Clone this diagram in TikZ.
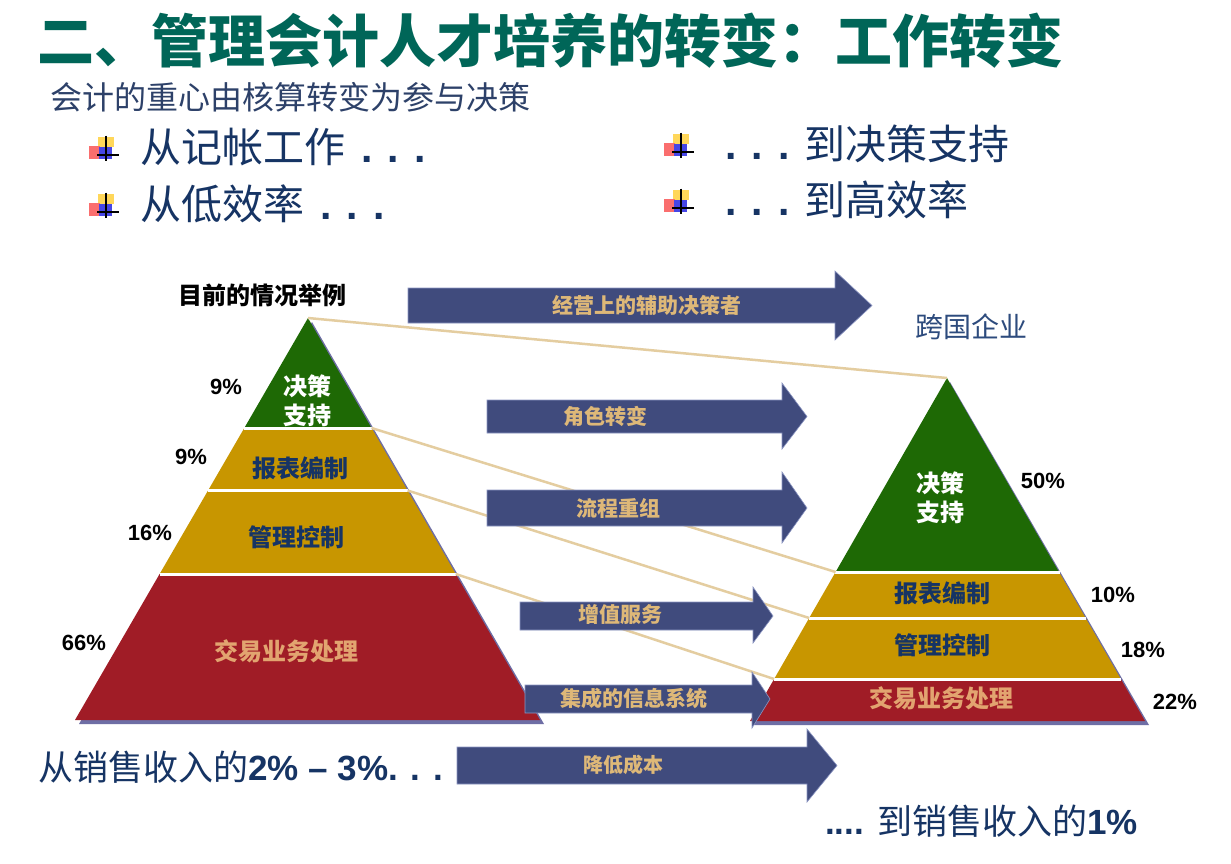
\documentclass[tikz,border=0pt]{standalone}
\usepackage{fontspec}
\setmainfont{Noto Sans CJK SC}
\newfontfamily\arial{Liberation Sans}
\definecolor{titleteal}{RGB}{0,102,88}
\definecolor{navytxt}{RGB}{22,52,100}
\definecolor{subtxt}{RGB}{45,65,105}
\definecolor{arrowfill}{RGB}{64,75,125}
\definecolor{arrowedge}{RGB}{140,150,195}
\definecolor{arrowlbl}{RGB}{222,184,120}
\definecolor{tanline}{RGB}{228,205,160}
\definecolor{pgreen}{RGB}{30,105,5}
\definecolor{pgold}{RGB}{200,150,0}
\definecolor{pred}{RGB}{160,28,38}
\definecolor{shadowc}{RGB}{110,110,165}
\definecolor{peach}{RGB}{226,164,112}
\definecolor{corpblue}{RGB}{45,75,125}
\definecolor{bulyel}{RGB}{255,215,90}
\definecolor{bulred}{RGB}{250,110,110}
\definecolor{bulblu}{RGB}{70,70,230}
\newcommand{\myarrow}[7]{%
  \fill[arrowfill, draw=arrowedge, line width=0.6pt] (#1,#2) -- (#4,#2) -- (#4,#5) -- (#7,{(#2+#3)/2}) -- (#4,#6) -- (#4,#3) -- (#1,#3) -- cycle;}
\tikzset{
  bul/.pic={
    \fill[bulyel] (-8,-11) rectangle (8,-1);
    \fill[bulred] (-17,-2) rectangle (-6,11);
    \fill[bulblu] (-7,-1) rectangle (6,11);
    \draw[black, line width=1.6pt] (0,-12.5) -- (0,12.5);
    \draw[black, line width=1.6pt] (-9,7) -- (13,7);
  },
  albl/.style={inner sep=0, text=arrowlbl, font=\fontsize{21}{25}\selectfont\bfseries},
  pct/.style={inner sep=0, text=black, font=\arial\fontsize{22}{26}\selectfont\bfseries},
  lyr/.style={inner sep=0, font=\fontsize{24}{29}\selectfont\bfseries, align=center},
  bullettxt/.style={inner sep=0, anchor=west, text=navytxt, font=\fontsize{41}{48}\selectfont},
  bottomtxt/.style={inner sep=0, anchor=west, text=navytxt, font=\fontsize{35}{42}\selectfont},
  tline/.style={tanline, line width=2.5pt},
  sepline/.style={white, line width=3pt}
}
\begin{document}
\begin{tikzpicture}[x=1pt,y=-1pt]
\fill[white] (0,0) rectangle (1231,863);
\useasboundingbox (0,0) rectangle (1231,863);

% header
\node[inner sep=0, anchor=west, text=titleteal, font=\fontsize{57}{66}\selectfont\bfseries] (title) at (37,41) {二、管理会计人才培养的转变：工作转变};
\node[inner sep=0, anchor=west, text=subtxt, font=\fontsize{32}{38}\selectfont] (sub) at (50,97) {会计的重心由核算转变为参与决策};

\pic at (106,148) {bul};
\pic at (106,205) {bul};
\pic at (681,145) {bul};
\pic at (681,201) {bul};
\node[bullettxt] (b1) at (140,147) {从记帐工作\hspace{16pt}{\arial\bfseries . . .}};
\node[bullettxt] (b2) at (140,204) {从低效率\hspace{16pt}{\arial\bfseries . . .}};
\node[bullettxt] (b3) at (725,144) {{\arial\bfseries . . .}\hspace{15pt}到决策支持};
\node[bullettxt] (b4) at (725,200) {{\arial\bfseries . . .}\hspace{15pt}到高效率};

% corners
\coordinate (LA) at (308,318);
\coordinate (LG) at (371.5,428);
\coordinate (LY) at (407.6,490.5);
\coordinate (LM) at (455.7,574);
\coordinate (RA) at (947,378);
\coordinate (RG) at (835.6,572);
\coordinate (RY) at (809.2,618);
\coordinate (RM) at (774.1,679);

% left pyramid
\fill[shadowc] (312,322) -- (79,724) -- (544,724) -- cycle;
\fill[pgreen] (LA) -- (244.3,428) -- (LG) -- cycle;
\fill[pgold] (244.3,428) -- (159.6,574) -- (LM) -- (LG) -- cycle;
\fill[pred] (159.6,574) -- (75,720) -- (540,720) -- (LM) -- cycle;
\draw[sepline] (244.3,428.5) -- (372,428.5);
\draw[sepline] (208,490.5) -- (408,490.5);
\draw[sepline] (159.6,574) -- (456,574);

% right pyramid
\fill[shadowc] (950,382) -- (753,725) -- (1149,725) -- cycle;
\fill[pgreen] (RA) -- (RG) -- (1059,572) -- cycle;
\fill[pgold] (RG) -- (RM) -- (1120.8,679) -- (1059,572) -- cycle;
\fill[pred] (RM) -- (750,721) -- (1145,721) -- (1120.8,679) -- cycle;
\draw[sepline] (835,572) -- (1059.5,572);
\draw[sepline] (809,618) -- (1086,618);
\draw[sepline] (774,679.5) -- (1121,679.5);

% connector lines
\draw[tline] (LA) -- (RA);
\draw[tline] (LG) -- (RG);
\draw[tline] (LY) -- (RY);
\draw[tline] (LM) -- (RM);

% arrows
\myarrow{408}{288}{323}{835}{271}{340}{872}
\myarrow{487}{400}{433}{782}{383}{449}{807}
\myarrow{487}{490}{526}{782}{472}{543}{807}
\myarrow{520}{602}{630}{753}{587}{643}{773}
\myarrow{525}{685}{713}{752}{672}{728}{770}
\myarrow{457}{747}{784}{807}{729}{802}{837}
\node[albl] (a1) at (647,305) {经营上的辅助决策者};
\node[albl] (a2) at (605,416) {角色转变};
\node[albl] (a3) at (618,508) {流程重组};
\node[albl] (a4) at (620,614) {增值服务};
\node[albl] (a5) at (634,698) {集成的信息系统};
\node[albl, font=\fontsize{20}{24}\selectfont\bfseries] (a6) at (623,765) {降低成本};

% pyramid labels
\node[inner sep=0, font=\fontsize{24}{29}\selectfont\bfseries] (cur) at (262,295) {目前的情况举例};
\node[inner sep=0, text=corpblue, font=\fontsize{28}{33}\selectfont] (corp) at (971,327) {跨国企业};
\node[lyr, text=white] (l1) at (307,401) {决策\\支持};
\node[lyr, text=navytxt] (l2) at (300,468) {报表编制};
\node[lyr, text=navytxt] (l3) at (296,537) {管理控制};
\node[lyr, text=peach] (l4) at (286,651) {交易业务处理};
\node[lyr, text=white] (r1) at (940,498) {决策\\支持};
\node[lyr, text=navytxt] (r2) at (942,593) {报表编制};
\node[lyr, text=navytxt] (r3) at (942,645) {管理控制};
\node[lyr, text=peach] (r4) at (941,698) {交易业务处理};

\node[pct] (p1) at (226,387) {9\%};
\node[pct] (p2) at (191,457) {9\%};
\node[pct] (p3) at (150,533) {16\%};
\node[pct] (p4) at (84,643) {66\%};
\node[pct] (q1) at (1043,481) {50\%};
\node[pct] (q2) at (1113,595) {10\%};
\node[pct] (q3) at (1143,650) {18\%};
\node[pct] (q4) at (1175,702) {22\%};

% bottom
\node[bottomtxt] (c1) at (38,767) {从销售收入的{\arial\bfseries 2\% – 3\%. . .}};
\node[bottomtxt] (c2) at (825,821) {{\arial\bfseries ....}\hspace{13pt}到销售收入的{\arial\bfseries 1\%}};
\end{tikzpicture}
\end{document}
